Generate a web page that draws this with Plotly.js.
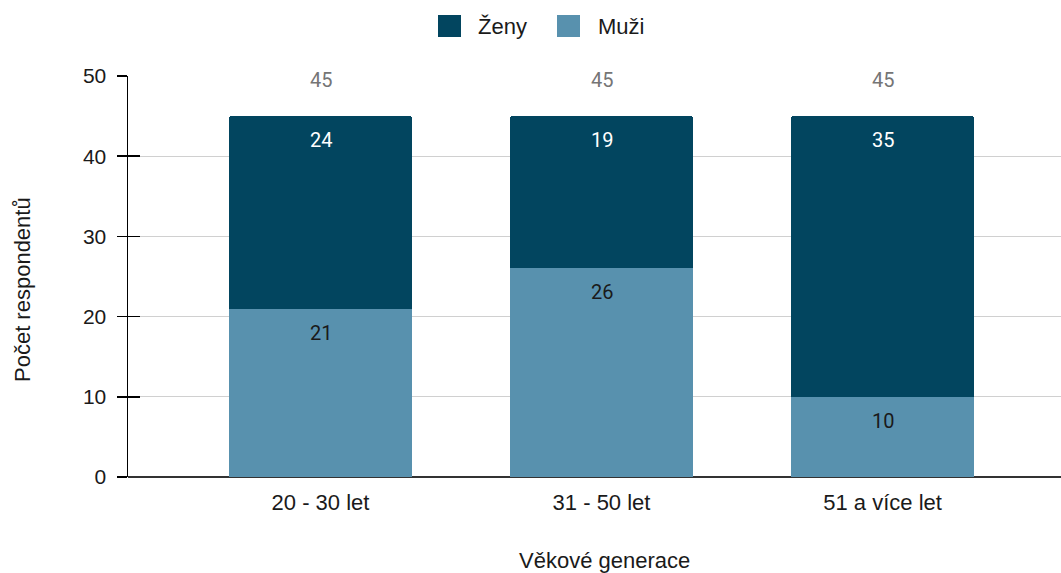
<!DOCTYPE html>
<html>
<head>
<meta charset="utf-8">
<script src="https://cdn.plot.ly/plotly-3.0.1.min.js"></script>
<style>html,body{margin:0;padding:0;background:#fff;}#chart{width:1061px;height:573px;}</style>
</head>
<body>
<div id="chart"></div>
<script>
const categories = ["20 - 30 let", "31 - 50 let", "51 a více let"];
const muzi = [21, 26, 10];
const zeny = [24, 19, 35];
const seriesNames = ["Ženy", "Muži"];
const seriesColors = ["#02455f", "#5891ae"];
const labelColors = ["#ffffff", "#1a1a1a"];
const totals = categories.map((c, i) => muzi[i] + zeny[i]);
const yTicks = [0, 10, 20, 30, 40, 50];
const xTitle = "Věkové generace";
const yTitle = "Počet respondentů";

const FONT = "'Liberation Sans', Arial, sans-serif";
const LFONT = "Roboto, 'Noto Sans', Arial, sans-serif";
const W = 1061, H = 573;
const M = {l: 128, r: 0, t: 76, b: 96};
const pw = W - M.l - M.r, ph = H - M.t - M.b;
const px2x = p => (p - M.l) / pw;
const px2y = p => (H - M.b - p) / ph;

const traces = [
  {type: "bar", name: seriesNames[1], x: categories, y: muzi, marker: {color: seriesColors[1]}, hoverinfo: "x+y+name"},
  {type: "bar", name: seriesNames[0], x: categories, y: zeny, marker: {color: seriesColors[0]}, hoverinfo: "x+y+name"},
  {type: "scatter", x: categories, y: [null, null, null], yaxis: "y2", showlegend: false, hoverinfo: "skip"}
];

const annotations = [];
categories.forEach((c, i) => {
  annotations.push({x: c, y: muzi[i] + zeny[i], text: String(zeny[i]), showarrow: false, yshift: -24,
    font: {family: LFONT, size: 20, color: labelColors[0]}});
  annotations.push({x: c, y: muzi[i], text: String(muzi[i]), showarrow: false, yshift: -24,
    font: {family: LFONT, size: 20, color: labelColors[1]}});
  annotations.push({x: c, y: totals[i], text: String(totals[i]), showarrow: false, yshift: 36,
    bgcolor: "#ffffff", borderpad: 2, font: {family: LFONT, size: 20, color: "#757575"}});
});

// axis titles
annotations.push({xref: "paper", yref: "paper", x: px2x(604), y: px2y(560), xanchor: "center", yanchor: "middle",
  text: xTitle, showarrow: false, font: {family: FONT, size: 22, color: "#1a1a1a"}});
annotations.push({xref: "paper", yref: "paper", x: px2x(22), y: px2y(290), xanchor: "center", yanchor: "middle",
  textangle: -90, text: yTitle, showarrow: false, font: {family: FONT, size: 22, color: "#1a1a1a"}});

// custom legend
const legendItems = [
  {name: seriesNames[0], color: seriesColors[0], sx: 438, tx: 476},
  {name: seriesNames[1], color: seriesColors[1], sx: 557, tx: 596}
];
const shapes = [];
legendItems.forEach(it => {
  shapes.push({type: "rect", xref: "paper", yref: "paper", x0: px2x(it.sx), x1: px2x(it.sx + 23),
    y0: px2y(37), y1: px2y(15), fillcolor: it.color, line: {width: 0}});
  annotations.push({xref: "paper", yref: "paper", x: px2x(it.tx), y: px2y(26), xanchor: "left", yanchor: "middle",
    text: it.name, showarrow: false, font: {family: FONT, size: 22, color: "#1a1a1a"}});
});

const layout = {
  width: W, height: H,
  margin: M,
  paper_bgcolor: "#ffffff", plot_bgcolor: "#ffffff",
  font: {family: FONT, size: 21, color: "#1a1a1a"},
  barmode: "stack",
  bargap: 0.349,
  barcornerradius: 3,
  showlegend: false,
  xaxis: {
    range: [-0.685, 2.635], showgrid: false, showline: false, ticks: "", ticklabelstandoff: 10,
    tickfont: {family: FONT, size: 22, color: "#1a1a1a"},
    automargin: false
  },
  yaxis: {
    range: [0, 50], tickvals: yTicks, showgrid: true, gridcolor: "#d0d0d0", gridwidth: 1,
    zeroline: true, zerolinecolor: "#333333", zerolinewidth: 2,
    showline: true, linecolor: "#000000", linewidth: 1.5,
    ticks: "outside", ticklen: 10, tickcolor: "#000000", tickwidth: 1.5, ticklabelstandoff: 6,
    tickfont: {family: FONT, size: 21, color: "#1a1a1a"},
    automargin: false
  },
  yaxis2: {
    overlaying: "y", range: [0, 50], tickvals: yTicks, showgrid: false, zeroline: false,
    showticklabels: false, ticks: "inside", ticklen: 12, tickcolor: "#000000", tickwidth: 1.5, side: "left"
  },
  annotations: annotations,
  shapes: shapes
};

Plotly.newPlot("chart", traces, layout, {displayModeBar: false, staticPlot: true});
</script>
</body>
</html>
